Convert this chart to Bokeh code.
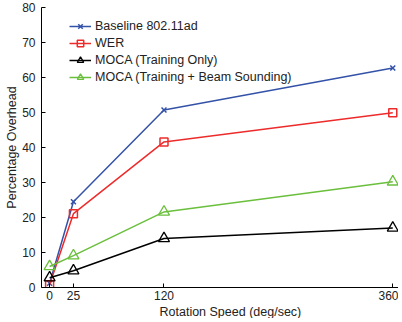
from bokeh.plotting import figure
from bokeh.models import Legend, LegendItem, Title, FixedTicker, Range1d
from bokeh.embed import file_html
from bokeh.resources import INLINE

speeds = [0, 25, 120, 360]
baseline = [1.2, 24.5, 50.7, 62.7]
wer = [0.8, 21.1, 41.6, 49.9]
moca_train = [2.8, 4.8, 14.0, 17.0]
moca_beam = [6.0, 9.1, 21.6, 30.2]
y_ticks = [0, 10, 20, 30, 40, 50, 60, 70, 80]
x_ticks = [0, 25, 120, 360]

FONT = "Liberation Sans"

p = figure(frame_width=357, frame_height=280, output_backend="svg", toolbar_location=None,
           x_range=Range1d(-8.5, 366), y_range=Range1d(0, 80),
           min_border_left=41, min_border_right=0, min_border_top=7, min_border_bottom=0)
p.outline_line_color = None
p.xgrid.visible = False
p.ygrid.visible = False
p.background_fill_color = "white"

for ax in (p.xaxis[0], p.yaxis[0]):
    ax.major_tick_in = 4
    ax.major_tick_out = 0
    ax.minor_tick_line_color = None
    ax.axis_line_color = "black"
    ax.major_tick_line_color = "black"
    ax.major_label_text_font = FONT
    ax.major_label_text_font_size = "12px"
    ax.major_label_text_color = "#222222"

p.xaxis.ticker = FixedTicker(ticks=x_ticks)
p.yaxis.ticker = FixedTicker(ticks=y_ticks)
p.xaxis.major_label_standoff = 3
p.yaxis.major_label_standoff = 6
p.yaxis.axis_label = "Percentage Overhead"
p.yaxis.axis_label_text_font = FONT
p.yaxis.axis_label_text_font_size = "12.5px"
p.yaxis.axis_label_text_font_style = "normal"
p.yaxis.axis_label_text_color = "#222222"
p.yaxis.axis_label_standoff = 0

xt = Title(text="Rotation Speed (deg/sec)", align="left", offset=118,
           text_font=FONT, text_font_size="12.5px", text_font_style="normal",
           text_color="#222222", standoff=0)
p.add_layout(xt, "below")

BLUE = "#3352a8"
RED = "#ee2b2b"
BLACK = "#000000"
GREEN = "#6abf3c"

items = []
l1 = p.line(speeds, baseline, line_color=BLUE, line_width=1.5)
m1 = p.scatter(speeds, baseline, marker="x", size=7, line_color=BLUE, line_width=1.5)
items.append(LegendItem(label="Baseline 802.11ad", renderers=[l1, m1]))

l2 = p.line(speeds, wer, line_color=RED, line_width=1.5)
m2 = p.scatter(speeds, wer, marker="square", size=8, line_color=RED, fill_color=None, line_width=1.5)
items.append(LegendItem(label="WER", renderers=[l2, m2]))

l3 = p.line(speeds, moca_train, line_color=BLACK, line_width=1.5)
m3 = p.scatter(speeds, moca_train, marker="triangle", size=11, line_color=BLACK, fill_color=None, line_width=1.3)
items.append(LegendItem(label="MOCA (Training Only)", renderers=[l3, m3]))

l4 = p.line(speeds, moca_beam, line_color=GREEN, line_width=1.5)
m4 = p.scatter(speeds, moca_beam, marker="triangle", size=11, line_color=GREEN, fill_color=None, line_width=1.3)
items.append(LegendItem(label="MOCA (Training + Beam Sounding)", renderers=[l4, m4]))

legend = Legend(items=items, location=(28, 202), padding=0, margin=0, spacing=1,
                glyph_width=22, glyph_height=16, label_height=16, label_standoff=4,
                border_line_color=None, background_fill_alpha=0,
                label_text_font=FONT, label_text_font_size="12.5px", label_text_color="#222222")
p.add_layout(legend, "center")

open("out.html", "w").write(file_html(p, INLINE))
